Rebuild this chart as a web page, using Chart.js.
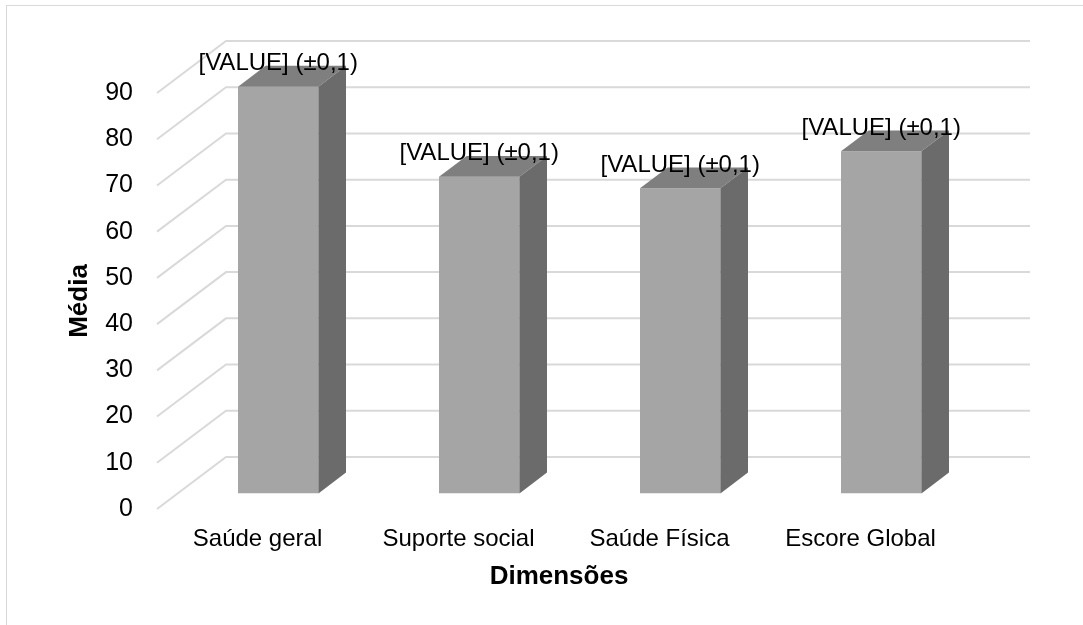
<!DOCTYPE html>
<html lang="pt">
<head>
<meta charset="utf-8">
<title>Média por dimensão</title>
<script src="https://cdn.jsdelivr.net/npm/chart.js@4.4.1/dist/chart.umd.min.js"></script>
<style>
  html, body { margin: 0; padding: 0; background: #fff; }
  canvas { display: block; }
</style>
</head>
<body>
<canvas id="grafico" width="1083" height="625"></canvas>
<script>
// Dimensões e médias
const categorias = ["Saúde geral", "Suporte social", "Saúde Física", "Escore Global"];
const medias = [88, 68.5, 66, 74];
const rotulos = ["[VALUE] (±0,1)", "[VALUE] (±0,1)", "[VALUE] (±0,1)", "[VALUE] (±0,1)"];
const ticksY = [0, 10, 20, 30, 40, 50, 60, 70, 80, 90];

// profundidade do efeito 3D (px)
const PROF_X = 69, PROF_Y = 52;
const BAR_X = PROF_X * 0.3, BAR_Y = PROF_Y * 0.3;      // deslocamento da face frontal
const LADO_X = PROF_X * 0.4, LADO_Y = PROF_Y * 0.4;    // espessura da barra

const corFrente = "#a5a5a5";
const corTopo = "#7f7f7f";
const corLado = "#6b6b6b";
const corGrade = "#d9d9d9";

const fonte = "'Liberation Sans', Arial, sans-serif";

// Moldura, grade em perspectiva, faces 3D e rótulos
const efeito3d = {
  id: "efeito3d",
  beforeDraw(chart) {
    const ctx = chart.ctx;
    ctx.save();
    ctx.strokeStyle = corGrade;
    ctx.lineWidth = 1;
    ctx.strokeRect(6.5, 5.5, 1200, 800);
    ctx.restore();
  },
  beforeDatasetsDraw(chart) {
    const { ctx, chartArea, scales } = chart;
    ctx.save();
    ctx.strokeStyle = corGrade;
    ctx.lineWidth = 2;
    ticksY.forEach(v => {
      const y = scales.y.getPixelForValue(v);
      ctx.beginPath();
      ctx.moveTo(chartArea.left, y);
      ctx.lineTo(chartArea.left + PROF_X, y - PROF_Y);
      ctx.lineTo(chartArea.right + PROF_X, y - PROF_Y);
      ctx.stroke();
    });
    ctx.restore();
  },
  beforeDatasetDraw(chart) {
    chart.ctx.save();
    chart.ctx.translate(BAR_X, -BAR_Y);
  },
  afterDatasetDraw(chart, args) {
    const ctx = chart.ctx;
    const meta = chart.getDatasetMeta(args.index);
    meta.data.forEach(bar => {
      const { x, y, base, width } = bar.getProps(["x", "y", "base", "width"], true);
      const l = x - width / 2, r = x + width / 2;
      // topo
      ctx.fillStyle = corTopo;
      ctx.beginPath();
      ctx.moveTo(l, y);
      ctx.lineTo(r, y);
      ctx.lineTo(r + LADO_X, y - LADO_Y);
      ctx.lineTo(l + LADO_X, y - LADO_Y);
      ctx.closePath();
      ctx.fill();
      // lateral
      ctx.fillStyle = corLado;
      ctx.beginPath();
      ctx.moveTo(r, y);
      ctx.lineTo(r, base);
      ctx.lineTo(r + LADO_X, base - LADO_Y);
      ctx.lineTo(r + LADO_X, y - LADO_Y);
      ctx.closePath();
      ctx.fill();
    });
    ctx.restore();
  },
  afterDatasetsDraw(chart) {
    const ctx = chart.ctx;
    const meta = chart.getDatasetMeta(0);
    ctx.save();
    ctx.fillStyle = "#000";
    ctx.font = "24px " + fonte;
    ctx.textAlign = "center";
    ctx.textBaseline = "middle";
    meta.data.forEach((bar, i) => {
      ctx.fillText(rotulos[i], bar.x + BAR_X, bar.y - BAR_Y - 23);
    });
    ctx.restore();
  }
};

new Chart(document.getElementById("grafico"), {
  type: "bar",
  data: {
    labels: categorias,
    datasets: [{
      label: "Média",
      data: medias,
      backgroundColor: corFrente,
      borderWidth: 0,
      barPercentage: 0.4,
      categoryPercentage: 1
    }]
  },
  options: {
    responsive: false,
    animation: false,
    devicePixelRatio: 1,
    layout: { padding: { top: 93, right: 122, left: 0, bottom: 0 } },
    plugins: {
      legend: { display: false },
      tooltip: { enabled: false }
    },
    scales: {
      x: {
        grid: { display: false, drawTicks: false },
        border: { display: false },
        ticks: {
          color: "#000",
          font: { family: fonte, size: 24 },
          padding: 16
        },
        title: {
          display: true,
          text: "Dimensões",
          color: "#000",
          font: { family: fonte, size: 26, weight: "bold" },
          padding: { top: 0, bottom: 33 }
        },
        afterFit(scale) { scale.height = 116; }
      },
      y: {
        min: 0,
        max: 90,
        grid: { display: false, drawTicks: false },
        border: { display: false },
        afterBuildTicks(scale) { scale.ticks = ticksY.map(v => ({ value: v })); },
        ticks: {
          color: "#000",
          font: { family: fonte, size: 25 },
          padding: 24
        },
        title: {
          display: true,
          text: "Média",
          color: "#000",
          font: { family: fonte, size: 26, weight: "bold" },
          padding: { top: 64, bottom: 0 }
        },
        afterFit(scale) { scale.width = 157; }
      }
    }
  },
  plugins: [efeito3d]
});
</script>
</body>
</html>
